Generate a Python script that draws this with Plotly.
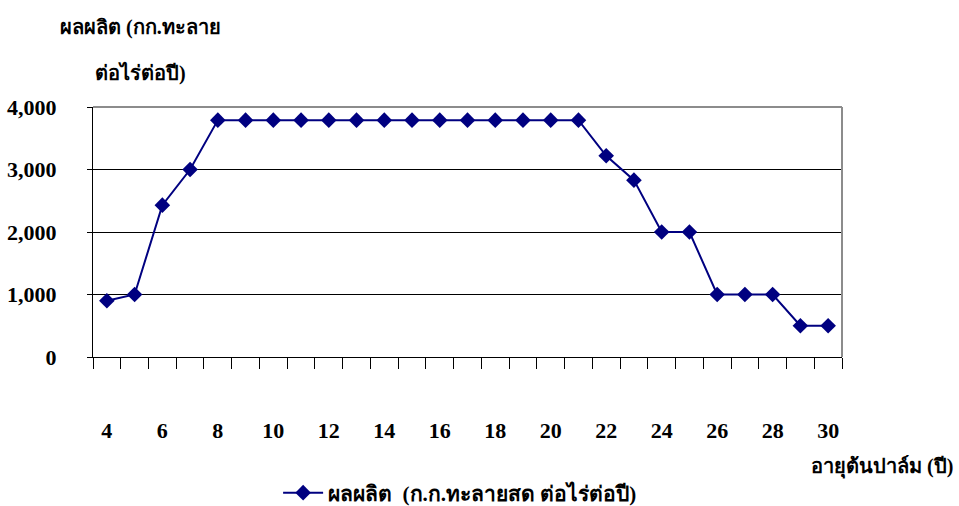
import plotly.graph_objects as go

# Palm age (years) and yield (kg fresh fruit bunches per rai per year)
ages = list(range(4, 31))
yield_kg = [900, 1000, 2430, 3000, 3790, 3790, 3790, 3790, 3790, 3790, 3790, 3790,
            3790, 3790, 3790, 3790, 3790, 3790, 3220, 2830, 2000, 2000, 1000, 1000,
            1000, 500, 500]
x_labels = [str(a) for a in range(4, 31, 2)]
y_ticks = [0, 1000, 2000, 3000, 4000]
y_labels = ["0", "1,000", "2,000", "3,000", "4,000"]

series_name = "ผลผลิต  (ก.ก.ทะลายสด ต่อไร่ต่อปี)"
FONT = "Liberation Serif, Times New Roman, serif"
NAVY = "#000080"

fig = go.Figure()
fig.add_trace(go.Scatter(
    x=ages, y=yield_kg, mode="lines+markers", name=series_name,
    line=dict(color=NAVY, width=2),
    marker=dict(symbol="diamond", size=12, color=NAVY),
))

fig.update_layout(
    width=959, height=506,
    margin=dict(l=0, r=0, t=0, b=0, autoexpand=False),
    paper_bgcolor="white", plot_bgcolor="white",
    font=dict(family=FONT, size=22, color="black"),
    showlegend=True,
    legend=dict(orientation="h", x=0.29, y=1 - 493 / 506, xanchor="left", yanchor="middle",
                font=dict(family=FONT, size=21, color="black", weight="bold"),
                itemwidth=40, bgcolor="rgba(0,0,0,0)"),
    xaxis=dict(
        domain=[93 / 959, 842 / 959],
        range=[3.5, 30.5],
        automargin=False,
        tickvals=list(range(4, 31, 2)), ticktext=x_labels,
        ticks="", showgrid=False, zeroline=False,
        showline=True, linecolor="black", linewidth=1,
        ticklabelstandoff=54,
        tickfont=dict(family=FONT, size=22, weight="bold"),
        minor=dict(tick0=3.5, dtick=1, ticks="outside", ticklen=11,
                   tickcolor="black", tickwidth=1, showgrid=False),
    ),
    yaxis=dict(
        domain=[1 - 357 / 506, 1 - 107 / 506],
        range=[0, 4000],
        automargin=False,
        tickvals=y_ticks, ticktext=y_labels,
        ticks="outside", ticklen=5, tickcolor="black",
        showgrid=True, gridcolor="black", gridwidth=1,
        zeroline=False,
        showline=True, linecolor="black", linewidth=1,
        ticklabelstandoff=26,
        tickfont=dict(family=FONT, size=22, weight="bold"),
    ),
)

# grey frame on the top and right of the plot area
fig.add_shape(type="line", xref="x domain", yref="y domain", x0=0, x1=1, y0=1, y1=1,
              line=dict(color="#8c8c8c", width=2))
fig.add_shape(type="line", xref="x domain", yref="y domain", x0=1, x1=1, y0=0, y1=1,
              line=dict(color="#8c8c8c", width=2))

# axis titles
fig.add_annotation(text="ผลผลิต (กก.ทะลาย", xref="paper", yref="paper",
                   x=140 / 959, y=1 - 27 / 506, xanchor="center", yanchor="middle",
                   showarrow=False, font=dict(family=FONT, size=20, weight="bold"))
fig.add_annotation(text="ต่อไร่ต่อปี)", xref="paper", yref="paper",
                   x=140 / 959, y=1 - 73 / 506, xanchor="center", yanchor="middle",
                   showarrow=False, font=dict(family=FONT, size=20, weight="bold"))
fig.add_annotation(text="อายุต้นปาล์ม (ปี)", xref="paper", yref="paper",
                   x=955 / 959, y=1 - 467 / 506, xanchor="right", yanchor="middle",
                   showarrow=False, font=dict(family=FONT, size=20, weight="bold"))

fig.write_html("out.html")
